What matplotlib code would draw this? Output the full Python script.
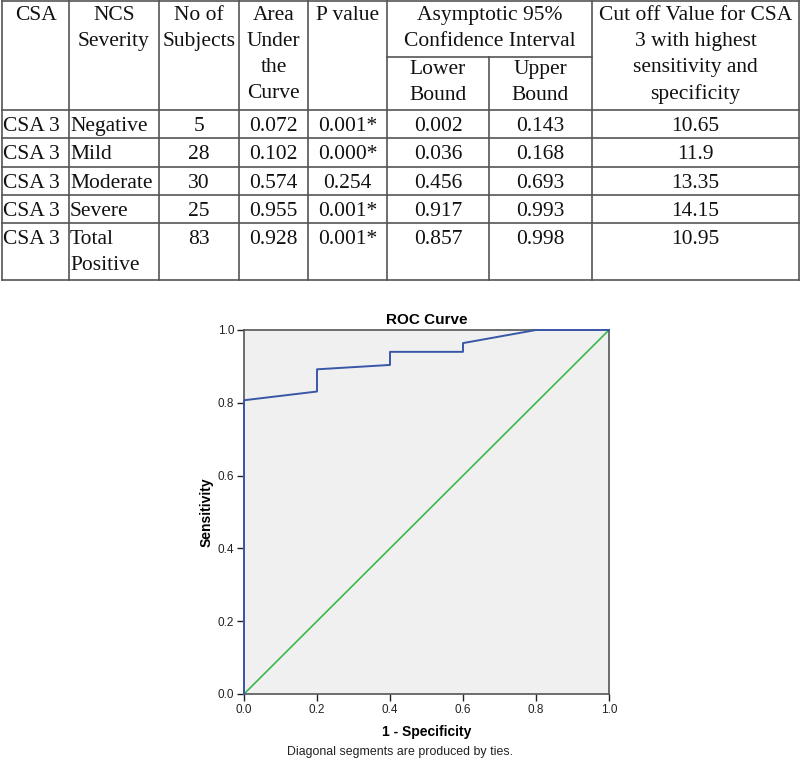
import matplotlib
matplotlib.use("Agg")
import matplotlib.pyplot as plt
from matplotlib.lines import Line2D

# ---------------- data ----------------
csa = ["CSA 3", "CSA 3", "CSA 3", "CSA 3", "CSA 3"]
severity = ["Negative", "Mild", "Moderate", "Severe", "Total\nPositive"]
n_subjects = ["5", "28", "30", "25", "83"]
auc = ["0.072", "0.102", "0.574", "0.955", "0.928"]
p_value = ["0.001*", "0.000*", "0.254", "0.001*", "0.001*"]
lower = ["0.002", "0.036", "0.456", "0.917", "0.857"]
upper = ["0.143", "0.168", "0.693", "0.993", "0.998"]
cutoff = ["10.65", "11.9", "13.35", "14.15", "10.95"]

fpr = [0.0, 0.0, 0.2, 0.2, 0.4, 0.4, 0.6, 0.6, 0.8, 1.0]
tpr = [0.0, 0.807, 0.831, 0.892, 0.904, 0.940, 0.940, 0.964, 1.0, 1.0]
ref_x = [0.0, 1.0]
ref_y = [0.0, 1.0]

W, H = 800, 768
fig = plt.figure(figsize=(W / 100, H / 100), dpi=100)

def fx(px):
    return px / W

def fy(py):
    return 1 - py / H

def hline(y, x0, x1):
    fig.add_artist(Line2D([fx(x0), fx(x1)], [fy(y), fy(y)], color="#555555", lw=1.2))

def vline(x, y0, y1):
    fig.add_artist(Line2D([fx(x), fx(x)], [fy(y0), fy(y1)], color="#555555", lw=1.2))

serif = "Liberation Serif"
fs = 15.5

cols = [2, 69, 159, 239, 308, 387, 489, 592, 799]
rows = [110, 138, 167, 195, 223, 280]

# table lines
hline(1, cols[0], cols[-1])
hline(57, cols[5], cols[7])
for y in rows:
    hline(y, cols[0], cols[-1])
for i, x in enumerate(cols):
    if i == 6:
        vline(x, 57, rows[-1])
    else:
        vline(x, 1, rows[-1])

def txt(x, y, s, ha="center"):
    fig.text(fx(x), fy(y), s, ha=ha, va="top", fontsize=fs, family=serif,
             linespacing=1.5, color="#111111")

# header
hdr_top = 6
txt((cols[0] + cols[1]) / 2, hdr_top, "CSA")
txt((cols[1] + cols[2]) / 2, hdr_top, "NCS\nSeverity")
txt((cols[2] + cols[3]) / 2, hdr_top, "No of\nSubjects")
txt((cols[3] + cols[4]) / 2, hdr_top, "Area\nUnder\nthe\nCurve")
txt((cols[4] + cols[5]) / 2, hdr_top, "P value")
txt((cols[5] + cols[7]) / 2, hdr_top, "Asymptotic 95%\nConfidence Interval")
txt((cols[5] + cols[6]) / 2, 60, "Lower\nBound")
txt((cols[6] + cols[7]) / 2, 60, "Upper\nBound")
txt((cols[7] + cols[8]) / 2, hdr_top, "Cut off Value for CSA\n3 with highest\nsensitivity and\nspecificity")

columns = [csa, severity, n_subjects, auc, p_value, lower, upper, cutoff]
for r in range(len(csa)):
    ytop = rows[r] + 7
    for c, col in enumerate(columns):
        if c < 2:
            txt(cols[c] + 1, ytop, col[r], ha="left")
        else:
            txt((cols[c] + cols[c + 1]) / 2, ytop, col[r])

# ---------------- ROC plot ----------------
ax = fig.add_axes([fx(244), fy(694), (609 - 244) / W, (694 - 330) / H])
ax.set_facecolor("#f0f0f0")
ax.plot(ref_x, ref_y, color="#3cb84a", lw=1.2, zorder=2)
ax.plot(fpr, tpr, color="#3a57a7", lw=1.4, zorder=3, clip_on=False)
ax.set_xlim(0, 1)
ax.set_ylim(0, 1)
ticks = [0.0, 0.2, 0.4, 0.6, 0.8, 1.0]
ax.set_xticks(ticks)
ax.set_yticks(ticks)
ax.set_xticklabels([f"{t:.1f}" for t in ticks])
ax.set_yticklabels([f"{t:.1f}" for t in ticks])
ax.tick_params(labelsize=8.5, length=5, width=1, colors="#222222", pad=2)
for s in ax.spines.values():
    s.set_color("#555555")
    s.set_linewidth(1.2)
sans = "Liberation Sans"
for lab in ax.get_xticklabels() + ax.get_yticklabels():
    lab.set_family(sans)
ax.set_title("ROC Curve", fontsize=11, fontweight="bold", family=sans, pad=4)
ax.set_xlabel("1 - Specificity", fontsize=10, fontweight="bold", family=sans, labelpad=7)
ax.set_ylabel("Sensitivity", fontsize=10, fontweight="bold", family=sans, labelpad=3)

fig.text(0.5, fy(752), "Diagonal segments are produced by ties.", ha="center", va="center",
         fontsize=8.9, family=sans, color="#222222")

fig.savefig("out.png", dpi=100, facecolor="white")
